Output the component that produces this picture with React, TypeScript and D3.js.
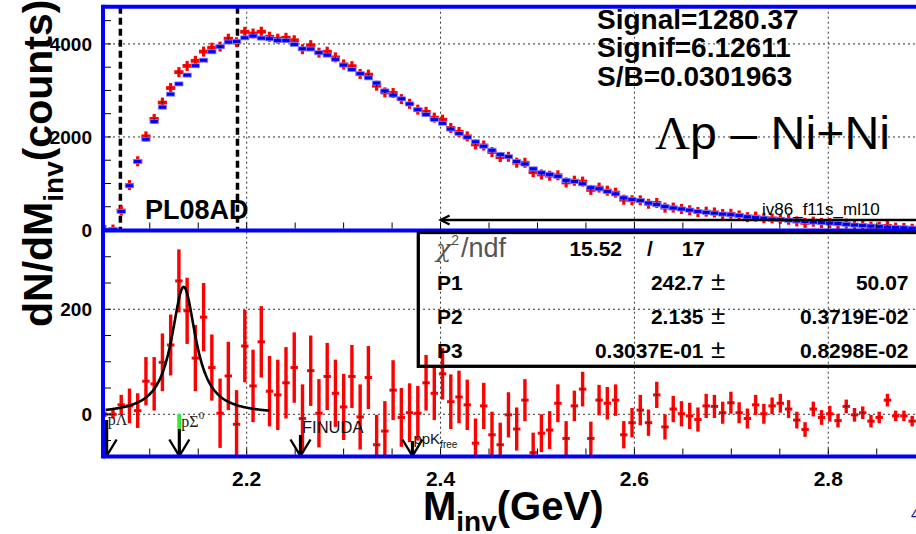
import React from 'react';
import * as d3 from 'd3';

// ---------- data ----------
const BIN_LOW = 2.0493;
const BIN_WIDTH = 0.0085;

// mixed-event background (blue) counts per bin
const background = [
  0, 10, 400, 950, 1470, 1950, 2330, 2640, 2920, 3140,
  3330, 3530, 3650, 3830, 3940, 4040, 4055, 4130, 4170, 4125,
  4110, 4075, 4072, 3990, 3895, 3890, 3810, 3760, 3670, 3545,
  3450, 3360, 3270, 3160, 2990, 2900, 2820, 2710, 2585, 2480,
  2375, 2295, 2170, 2075, 1995, 1895, 1800, 1715, 1625, 1575,
  1475, 1418, 1315, 1230, 1197, 1155, 1068, 1044, 993, 908,
  885, 825, 775, 690, 655, 630, 580, 545, 505, 472,
  452, 428, 398, 378, 362, 342, 327, 310, 284, 270,
  254, 233, 221, 210, 196, 182, 170, 158, 148, 137,
  123, 107, 97, 85, 75, 62, 54, 47, 40,
];

// measured Λp counts per bin (red)
const measured = [
  0, 10, 418, 966, 1477, 2013, 2388, 2739, 3052, 3394,
  3527, 3637, 3835, 3919, 3942, 4113, 4036, 4260, 4224, 4263,
  4154, 4112, 4132, 4079, 3887, 3973, 3812, 3832, 3710, 3559,
  3522, 3355, 3340, 3102, 2958, 2946, 2814, 2713, 2587, 2540,
  2415, 2372, 2194, 2108, 2013, 1840, 1816, 1676, 1567, 1574,
  1447, 1445, 1242, 1194, 1167, 1176, 1022, 1060, 1041, 862,
  912, 846, 802, 651, 639, 638, 564, 582, 481, 482,
  453, 425, 388, 394, 377, 345, 349, 313, 276, 288,
  255, 249, 242, 220, 185, 153, 180, 152, 149, 125,
  138, 106, 100, 72, 69, 89, 51, 44, 27,
];

// background-subtracted signal (lower panel)
const signal = [
  0, 0, 18, 16, 7, 63, 58, 99, 132, 254,
  197, 107, 185, 89, 2, 73, -19, 130, 54, 138,
  44, 37, 60, 89, -8, 83, 2, 72, 40, 14,
  72, -5, 70, -58, -32, 46, -6, 3, 2, 60,
  40, 77, 24, 33, 18, -55, 16, -39, -58, -1,
  -28, 27, -73, -36, -30, 21, -46, 16, 48, -46,
  27, 21, 27, -39, -16, 8, -16, 37, -24, 10,
  1, -3, -10, 16, 15, 3, 22, 3, -8, 18,
  1, 16, 21, 10, -11, -29, 10, -6, 1, -12,
  15, -1, 3, -13, -6, 27, -3, -3, -13,
];

const signalErr = [
  5, 8, 19, 33, 33, 46, 51, 55, 58, 60,
  63, 63, 65, 63, 66, 65, 65, 69, 69, 68,
  67, 67, 68, 67, 65, 67, 65, 64, 64, 63,
  60, 62, 60, 57, 57, 57, 56, 56, 52, 53,
  51, 49, 52, 50, 48, 47, 44, 44, 42, 43,
  41, 40, 38, 36, 36, 36, 33, 29, 33, 32,
  29, 31, 30, 26, 28, 29, 25, 25, 24, 25,
  24, 25, 23, 23, 22, 21, 21, 20, 19, 19,
  19, 16, 18, 17, 16, 14, 14, 14, 15, 13,
  13, 13, 12, 12, 11, 12, 10, 10, 10,
];

// Breit-Wigner fit: P1 (height), P2 (mass), P3 (width)
const fitParams = [242.7, 2.135, 0.03037];
const fitRange = [2.0545, 2.2235];

// selection cuts (dashed lines, upper panel)
const cutLines = [2.0697, 2.1905];
const rangeArrowFrom = 2.4;

// thresholds (arrows, lower panel)
const thresholdMass = [2.0555, 2.1305, 2.2555, 2.371];
const thresholdLabel = ['pΛ', 'pΣ', 'FINUDA', 'ppK'];

const xTicks = [2.2, 2.4, 2.6, 2.8];
const yTopTicks = [0, 2000, 4000];
const yBotTicks = [0, 200];

const statsLines = ['Signal=1280.37', 'Signif=6.12611', 'S/B=0.0301963'];
const fitRows = [
  { name: 'P1', value: '242.7', err: '50.07' },
  { name: 'P2', value: '2.135', err: '0.3719E-02' },
  { name: 'P3', value: '0.3037E-01', err: '0.8298E-02' },
];
const chi2 = { chi: '15.52', ndf: '17' };

// ---------- layout ----------
const W = 916;
const H = 534;
const FRAME_X = 103;
const TOP_Y0 = 6.7;
const MID_Y = 230.5;
const BOT_Y1 = 456.5;
const BLUE = '#0000ff';
const RED = '#ff0000';
const FONT = 'Arial, "Liberation Sans", Helvetica, sans-serif';

export default function App() {
  const x = d3.scaleLinear().domain([2.05, 2.9]).range([101.3, 925.2]);
  const yTop = d3.scaleLinear().domain([0, 4800]).range([230, TOP_Y0]);
  const yBot = d3.scaleLinear().domain([-80, 350]).range([456.3, MID_Y]);

  const center = (i: number) => BIN_LOW + (i + 0.5) * BIN_WIDTH;
  const bw = x(BIN_LOW + BIN_WIDTH) - x(BIN_LOW);

  const [P1, P2, P3] = fitParams;
  const bwFn = (m: number) => {
    const g = P3 / 2;
    return (P1 * g * g) / ((m - P2) * (m - P2) + g * g);
  };
  const fitPts = d3.range(0, 201).map((k) => {
    const m = fitRange[0] + (k / 200) * (fitRange[1] - fitRange[0]);
    return [m, bwFn(m)] as [number, number];
  });
  const fitPath = d3
    .line<[number, number]>()
    .x((d) => x(d[0]))
    .y((d) => yBot(d[1]))(fitPts) as string;

  const minorX = d3.range(2.1, 2.91, 0.05);
  const topMinorY = d3.range(500, 4800, 500);
  const botMinorY = d3.range(-50, 350, 50);

  // arrow styles: shaft top y
  const arrowTop = [420, 414, 435, 441];

  return (
    <svg
      width={W}
      height={H}
      style={{ position: 'absolute', left: 0, top: 0, background: '#fff' }}
      fontFamily={FONT}
    >
      <defs>
        <clipPath id="clipTop">
          <rect x={FRAME_X} y={TOP_Y0} width={W} height={MID_Y - TOP_Y0} />
        </clipPath>
        <clipPath id="clipBot">
          <rect x={FRAME_X} y={MID_Y} width={W} height={BOT_Y1 - MID_Y} />
        </clipPath>
      </defs>
      <rect x={0} y={0} width={W} height={H} fill="#fff" />

      {/* grid */}
      <g stroke="#333" strokeWidth={1} strokeDasharray="2,3">
        {xTicks.map((t) => (
          <line key={'gx' + t} x1={x(t)} x2={x(t)} y1={TOP_Y0} y2={BOT_Y1} />
        ))}
        {yTopTicks.filter((t) => t > 0).map((t) => (
          <line key={'gyt' + t} x1={FRAME_X} x2={W} y1={yTop(t)} y2={yTop(t)} />
        ))}
        {yBotTicks.map((t) => (
          <line key={'gyb' + t} x1={FRAME_X} x2={W} y1={yBot(t)} y2={yBot(t)} />
        ))}
      </g>

      {/* upper panel */}
      <g clipPath="url(#clipTop)">
        {cutLines.map((c) => (
          <line
            key={'cut' + c}
            x1={x(c)}
            x2={x(c)}
            y1={TOP_Y0}
            y2={MID_Y}
            stroke="#000"
            strokeWidth={3.5}
            strokeDasharray="7,4"
          />
        ))}
        {measured.map((v, i) => {
          const cx = x(center(i));
          const cy = yTop(v);
          return (
            <g key={'r' + i}>
              <rect x={cx - bw / 2 - 0.5} y={cy - 1.9} width={bw + 1} height={3.8} fill={RED} />
              <rect x={cx - 1.6} y={cy - 5} width={3.2} height={10} fill={RED} />
            </g>
          );
        })}
        {background.map((v, i) => {
          const cx = x(center(i));
          const cy = yTop(v);
          return (
            <rect
              key={'b' + i}
              x={cx - bw / 2}
              y={cy - 2}
              width={bw}
              height={4}
              fill={BLUE}
              stroke="#8080ff"
              strokeWidth={0.8}
            />
          );
        })}
        {measured.map((v, i) => (
          <rect key={'rd' + i} x={x(center(i)) - 0.6} y={yTop(v) - 0.6} width={1.2} height={1.2} fill="#000" />
        ))}
        {/* fit range arrow */}
        <line x1={x(rangeArrowFrom)} x2={W + 10} y1={220} y2={220} stroke="#000" strokeWidth={2.6} />
        <path
          d={`M${x(rangeArrowFrom) + 9},215.5 L${x(rangeArrowFrom)},220 L${x(rangeArrowFrom) + 9},224.5`}
          fill="none"
          stroke="#000"
          strokeWidth={2.2}
        />
      </g>

      {/* lower panel */}
      <g clipPath="url(#clipBot)">
        {signal.map((v, i) => {
          const cx = x(center(i));
          const e = signalErr[i];
          return (
            <g key={'s' + i}>
              <rect x={cx - 1.7} y={yBot(v + e)} width={3.4} height={yBot(v - e) - yBot(v + e)} fill={RED} />
              <rect x={cx - bw * 0.45} y={yBot(v) - 1.5} width={bw * 0.9} height={3} fill={RED} />
              <rect x={cx - 0.6} y={yBot(v) - 0.6} width={1.2} height={1.2} fill="#000" />
            </g>
          );
        })}
        <path d={fitPath} fill="none" stroke="#000" strokeWidth={2.6} />
        {thresholdMass.map((m, i) => {
          const ax = x(m);
          return (
            <g key={'arr' + i}>
              <line x1={ax} x2={ax} y1={arrowTop[i]} y2={BOT_Y1} stroke="#000" strokeWidth={3.2} />
              {i === 1 && (
                <line x1={ax} x2={ax} y1={arrowTop[i]} y2={arrowTop[i] + 15} stroke="#33ee33" strokeWidth={3.2} />
              )}
              <path
                d={`M${ax - 10},439.5 L${ax},456 L${ax + 10},439.5`}
                fill="none"
                stroke="#000"
                strokeWidth={2.4}
              />
            </g>
          );
        })}
      </g>

      {/* threshold labels */}
      <text x={x(thresholdMass[0]) + 1} y={425} fontSize={16} fontFamily='"Liberation Serif", "DejaVu Serif", serif' fill="#222">
        {thresholdLabel[0]}
      </text>
      <text x={x(thresholdMass[1]) + 2} y={426.5} fontSize={16} fontFamily='"Liberation Serif", "DejaVu Serif", serif' fill="#222">
        {thresholdLabel[1]}
        <tspan fontSize={11} dy={-8}>0</tspan>
      </text>
      <text x={x(thresholdMass[2]) + 1.5} y={432.5} fontSize={16.5} fill="#111">
        {thresholdLabel[2]}
      </text>
      <text x={x(thresholdMass[3]) + 1} y={443.5} fontSize={15} fill="#111">
        {thresholdLabel[3]}
        <tspan fontSize={10} dy={4}>free</tspan>
      </text>

      {/* frame */}
      <g stroke={BLUE} strokeWidth={4}>
        <line x1={FRAME_X} x2={W} y1={TOP_Y0} y2={TOP_Y0} />
        <line x1={FRAME_X} x2={W} y1={MID_Y} y2={MID_Y} />
        <line x1={FRAME_X} x2={W} y1={BOT_Y1} y2={BOT_Y1} />
        <line x1={FRAME_X} x2={FRAME_X} y1={TOP_Y0 - 2} y2={BOT_Y1 + 2} />
      </g>

      {/* ticks */}
      <g stroke="#000" strokeWidth={1}>
        {minorX.map((t) => (
          <g key={'tx' + t.toFixed(2)}>
            <line x1={x(t)} x2={x(t)} y1={MID_Y - 2} y2={MID_Y - 8} />
            <line x1={x(t)} x2={x(t)} y1={BOT_Y1 - 2} y2={BOT_Y1 - 8} />
          </g>
        ))}
        {topMinorY.map((t) => (
          <line key={'tyt' + t} x1={FRAME_X + 2} x2={FRAME_X + 8} y1={yTop(t)} y2={yTop(t)} />
        ))}
        {botMinorY.map((t) => (
          <line key={'tyb' + t} x1={FRAME_X + 2} x2={FRAME_X + 8} y1={yBot(t)} y2={yBot(t)} />
        ))}
      </g>

      {/* tick labels */}
      <g fontWeight="bold" fontSize={19} textAnchor="end" fill="#000">
        {yTopTicks.map((t) => (
          <text key={'lyt' + t} x={92} y={yTop(t)} dy="0.36em">
            {t}
          </text>
        ))}
        {yBotTicks.map((t) => (
          <text key={'lyb' + t} x={92} y={yBot(t)} dy="0.36em">
            {t}
          </text>
        ))}
      </g>
      <g fontWeight="bold" fontSize={21} textAnchor="middle" fill="#000">
        {xTicks.map((t) => (
          <text key={'lx' + t} x={x(t)} y={485.5}>
            {t.toFixed(1)}
          </text>
        ))}
      </g>

      {/* axis titles */}
      <text x={423} y={520} fontWeight="bold" fontSize={40} fill="#000">
        M<tspan fontSize={28} dy={11}>inv</tspan>
        <tspan dy={-11}>(GeV)</tspan>
      </text>
      <text transform="translate(52,327) rotate(-90)" fontWeight="bold" fontSize={41} fill="#000">
        dN/dM<tspan fontSize={28} dy={11}>inv</tspan>
        <tspan dy={-11}>(counts)</tspan>
      </text>

      {/* upper panel texts */}
      <g fontWeight="bold" fontSize={28} fill="#000">
        {statsLines.map((s, i) => (
          <text key={s} x={597} y={28.5 + i * 28.5}>
            {s}
          </text>
        ))}
      </g>
      <text x={655} y={148.5} fontSize={46} fill="#000" textLength={235} lengthAdjust="spacingAndGlyphs">
        <tspan fontFamily='"Liberation Serif", "DejaVu Serif", serif'>Λ</tspan>p – Ni+Ni
      </text>
      <text x={145} y={218.5} fontWeight="bold" fontSize={27} fill="#000">
        PL08AD
      </text>
      <text x={762} y={215} fontSize={17} fill="#000">
        iv86_f11s_ml10
      </text>

      {/* fit stats box */}
      <rect x={418.3} y={MID_Y + 2} width={W} height={366.3 - MID_Y - 2} fill="none" stroke="#000" strokeWidth={3.3} />
      <text x={436} y={257} fontSize={27} fill="#555">
        <tspan fontStyle="italic" fontFamily='"DejaVu Serif", serif' fontSize={25}>χ</tspan>
        <tspan fontSize={14} dy={-12}>2</tspan>
        <tspan dy={12} dx={2}>/ndf</tspan>
      </text>
      <g fontWeight="bold" fontSize={21} fill="#000">
        <text x={622} y={256.3} textAnchor="end">{chi2.chi}</text>
        <text x={647} y={256.3}>/</text>
        <text x={705} y={256.3} textAnchor="end">{chi2.ndf}</text>
        {fitRows.map((r, i) => {
          const by = 289.7 + i * 34.2;
          return (
            <g key={r.name}>
              <text x={437} y={by}>{r.name}</text>
              <text x={703.5} y={by} textAnchor="end">{r.value}</text>
              <text x={711} y={by} fontWeight="normal" fontSize={26}>±</text>
              <text x={908.5} y={by} textAnchor="end">{r.err}</text>
            </g>
          );
        })}
      </g>
      <text x={911} y={520} fontSize={16} fill="#1a1a80">4</text>
    </svg>
  );
}
